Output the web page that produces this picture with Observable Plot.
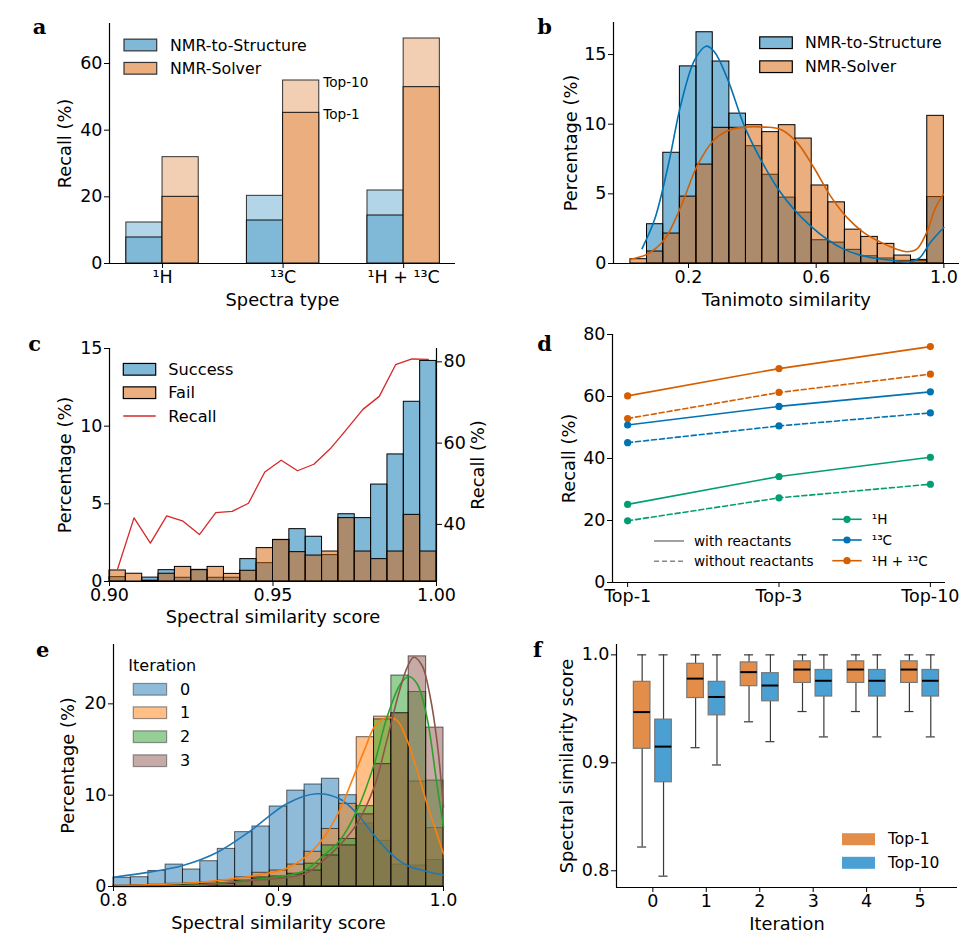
<!DOCTYPE html>
<html><head><meta charset="utf-8">
<script src="https://cdn.jsdelivr.net/npm/d3@7"></script>
<script src="https://cdn.jsdelivr.net/npm/@observablehq/plot@0.6"></script>
<style>
body{margin:0;background:#fff;}
#root{position:relative;width:978px;height:941px;background:#fff;overflow:hidden;font-family:'DejaVu Sans',sans-serif;}
.panel{position:absolute;}
#overlay{position:absolute;left:0;top:0;pointer-events:none;}
#root svg [aria-label$="tick label"]{font-size:17.5px;}
#root svg [aria-label$="tick label"] text{font-size:17.5px;}
</style></head><body><div id="root"></div>
<script>
// ---------- panel a ----------
const aCats = ["¹H", "¹³C", "¹H + ¹³C"];
const aStructTop1 = [7.8, 12.9, 14.4];
const aStructTop10 = [12.3, 20.3, 21.9];
const aSolverTop1 = [20.0, 45.2, 52.9];
const aSolverTop10 = [31.9, 54.9, 67.5];
const aSeries = ["NMR-to-Structure", "NMR-Solver"];
const aNoteLabels = ["Top-10", "Top-1"];

// ---------- panel b ----------
const bEdges = [0.018,0.070,0.121,0.173,0.225,0.276,0.328,0.380,0.431,0.483,0.535,0.586,0.638,0.690,0.741,0.793,0.845,0.897,0.948,1.000];
const bStruct = [0,2.82,7.95,14.15,16.6,14.5,10.76,8.42,6.37,4.73,3.65,1.67,1.5,0.98,0.52,0.36,0.19,0.17,4.77];
const bSolver = [0.31,0.86,2.15,4.8,7.1,9.74,9.74,9.93,9.43,9.93,8.97,5.6,4.39,2.43,1.91,1.41,0.57,0.26,10.6];
const bKdeStruct = [[0.0545,1.07],[0.094,3.17],[0.136,7.0],[0.177,11.5],[0.219,14.6],[0.255,15.6],[0.281,15.2],[0.323,13.2],[0.375,9.86],[0.426,7.47],[0.478,5.44],[0.53,3.9],[0.582,2.7],[0.634,1.74],[0.686,1.03],[0.738,0.6],[0.79,0.36],[0.842,0.21],[0.894,0.12],[0.925,0.43],[0.956,1.46],[1.0,2.58]];
const bKdeSolver = [[0.018,0.31],[0.071,0.67],[0.125,1.74],[0.177,4.13],[0.227,7.0],[0.281,8.9],[0.333,9.62],[0.385,9.8],[0.437,9.79],[0.489,9.62],[0.541,8.66],[0.593,6.87],[0.645,4.84],[0.697,3.29],[0.749,2.22],[0.8,1.55],[0.852,1.03],[0.884,0.84],[0.915,1.03],[0.946,2.22],[0.972,3.9],[0.998,4.96]];

// ---------- panel c ----------
const cEdges = [0.900,0.905,0.910,0.915,0.920,0.925,0.930,0.935,0.940,0.945,0.950,0.955,0.960,0.965,0.970,0.975,0.980,0.985,0.990,0.995,1.000];
const cSuccess = [0.28,0.0,0.25,0.73,0.24,0.75,0.24,0.24,1.44,1.18,2.66,3.37,2.88,1.70,4.33,4.08,6.24,8.18,11.57,14.20];
const cFail = [0.71,0.50,0.05,0.50,0.94,0.73,0.94,0.49,0.69,2.15,2.68,1.89,1.67,1.93,4.08,1.93,1.44,1.93,4.29,1.93];
const cRecallX = [0.9025,0.9075,0.9125,0.9175,0.9225,0.9275,0.9325,0.9375,0.9425,0.9475,0.9525,0.9575,0.9625,0.9675,0.9725,0.9775,0.9825,0.9875,0.9925,0.9975];
const cRecall = [29.1,41.6,35.4,42.1,40.8,37.5,42.9,43.2,45.2,52.9,55.8,53.2,54.8,58.6,63.4,68.3,71.5,79.3,80.7,80.6];
const cRecallDomain = [25.95, 83.28];

// ---------- panel d ----------
const dTops = ["Top-1", "Top-3", "Top-10"];
const dH_with = [25.2, 34.2, 40.4];
const dH_without = [19.9, 27.3, 31.7];
const dC_with = [50.8, 56.8, 61.5];
const dC_without = [45.1, 50.5, 54.7];
const dHC_with = [60.2, 69.0, 76.1];
const dHC_without = [52.9, 61.3, 67.2];
const dSeries = ["¹H", "¹³C", "¹H + ¹³C"];

// ---------- panel e ----------
const eEdges = [0.8,0.8105,0.8211,0.8316,0.8421,0.8526,0.8632,0.8737,0.8842,0.8947,0.9053,0.9158,0.9263,0.9368,0.9474,0.9579,0.9684,0.9789,0.9895,1.0];
const eIter0 = [0.95,1.02,1.7,2.4,1.86,2.77,4.12,5.95,6.57,8.76,10.5,11.17,11.8,10.0,6.9,5.0,2.4,2.3,2.9];
const eIter1 = [0.1,0.15,0.2,0.3,0.35,0.45,0.66,1.0,1.5,1.75,2.4,3.8,6.3,9.05,16.35,18.6,18.9,11.5,6.4];
const eIter2 = [0.02,0.05,0.1,0.15,0.2,0.25,0.35,0.65,1.0,1.1,1.4,2.5,4.5,5.2,8.8,18.3,23.1,21.3,11.6];
const eIter3 = [0,0.02,0.05,0.1,0.15,0.2,0.3,0.6,0.85,0.95,1.3,1.75,3.4,4.5,7.9,13.4,19.0,25.2,17.4];
const eKde0 = [[0.8,1.02],[0.822,1.57],[0.842,2.3],[0.863,3.76],[0.883,6.1],[0.905,9.06],[0.923,10.15],[0.937,9.6],[0.9475,8.0],[0.958,5.6],[0.968,3.6],[0.978,2.3],[0.99,1.65],[1.0,1.25]];
const eKde1 = [[0.8,0.1],[0.83,0.25],[0.8525,0.47],[0.877,0.95],[0.895,1.5],[0.905,2.0],[0.916,3.2],[0.926,5.0],[0.937,8.3],[0.943,10.9],[0.952,14.9],[0.9586,17.6],[0.9657,18.5],[0.9718,18.2],[0.978,16.0],[0.984,12.7],[0.99,9.06],[0.996,5.77],[1.0,3.58]];
const eKde2 = [[0.8,0.02],[0.85,0.15],[0.877,0.6],[0.905,1.2],[0.916,1.75],[0.926,3.2],[0.937,5.0],[0.9475,8.3],[0.958,13.4],[0.9657,18.5],[0.974,22.2],[0.979,23.0],[0.984,22.2],[0.99,18.5],[0.996,11.2],[1.0,6.5]];
const eKde3 = [[0.8,0.01],[0.85,0.12],[0.877,0.55],[0.916,1.4],[0.926,2.67],[0.937,4.5],[0.9475,6.86],[0.958,10.9],[0.9657,16.0],[0.9728,21.1],[0.978,24.0],[0.982,25.1],[0.987,24.2],[0.992,20.7],[0.996,16.0],[1.0,8.7]];
const eLabels = ["0", "1", "2", "3"];

// ---------- panel f ----------
const fIter = [0, 1, 2, 3, 4, 5];
const fTop1Low = [0.822, 0.914, 0.938, 0.9475, 0.9475, 0.9475];
const fTop1Q1 = [0.913, 0.960, 0.971, 0.974, 0.974, 0.974];
const fTop1Med = [0.947, 0.978, 0.984, 0.9864, 0.9864, 0.9864];
const fTop1Q3 = [0.975, 0.9917, 0.993, 0.994, 0.994, 0.994];
const fTop1High = [1, 1, 1, 1, 1, 1];
const fTop10Low = [0.795, 0.898, 0.9196, 0.924, 0.924, 0.924];
const fTop10Q1 = [0.882, 0.944, 0.957, 0.9614, 0.9614, 0.9614];
const fTop10Med = [0.915, 0.961, 0.9716, 0.976, 0.976, 0.976];
const fTop10Q3 = [0.940, 0.975, 0.983, 0.986, 0.986, 0.986];
const fTop10High = [1, 1, 1, 1, 1, 1];
const fLabels = ["Top-1", "Top-10"];

// ================= rendering =================
const FONT = "'DejaVu Sans', sans-serif";
const baseStyle = {fontFamily: FONT, fontSize: "17px", color: "#000", background: "transparent", overflow: "visible"};
const root = document.getElementById("root");
function place(el, left, top) { el.classList.add("panel"); el.style.left = left + "px"; el.style.top = top + "px"; root.appendChild(el); }
function ax(xo, yo) {
  return [
    Plot.axisX({tickSize: 5, tickPadding: 2, fontSize: 17.5, label: null, ...xo}),
    Plot.axisY({tickSize: 5, tickPadding: 2, fontSize: 17.5, label: null, ...yo})
  ];
}
function yLab(t, dx, anchor = "left") { return Plot.text([t], {text: d => d, frameAnchor: anchor, dx, rotate: -90, textAnchor: "middle", lineAnchor: "middle", fontSize: 17.8}); }
function xLab(t, dy) { return Plot.text([t], {text: d => d, frameAnchor: "bottom", dy, textAnchor: "middle", lineAnchor: "middle", fontSize: 17.8}); }
function spines(x0, y0) { return [Plot.ruleX([x0], {stroke: "#000", strokeWidth: 1.2}), Plot.ruleY([y0], {stroke: "#000", strokeWidth: 1.2})]; }
const bins = (edges, vals) => vals.map((v, i) => ({x1: edges[i], x2: edges[i + 1], v}));

const BLUE = "#0173b2", ORANGE = "#d55e00", GREEN = "#029e73";

// ----- a -----
const aRows = aCats.map((c, i) => ({i, s1: aStructTop1[i], s10: aStructTop10[i], o1: aSolverTop1[i], o10: aSolverTop10[i]}));
const aNotes = [{t: aNoteLabels[0], v: aSolverTop10[1], i: 1}, {t: aNoteLabels[1], v: aSolverTop1[1], i: 1}];
place(Plot.plot({
  width: 489, height: 320, marginLeft: 109, marginRight: 34, marginTop: 23, marginBottom: 57,
  style: baseStyle,
  x: {type: "linear", domain: [-0.44, 2.43]}, y: {domain: [0, 72]},
  marks: [
    Plot.rect(aRows, {x1: d => d.i - 0.3, x2: d => d.i, y1: 0, y2: "s10", fill: "#b3d5e8", stroke: "#333", strokeWidth: 1}),
    Plot.rect(aRows, {x1: d => d.i - 0.3, x2: d => d.i, y1: 0, y2: "s1", fill: "#80b9d8", stroke: "#111", strokeWidth: 1}),
    Plot.rect(aRows, {x1: d => d.i, x2: d => d.i + 0.3, y1: 0, y2: "o10", fill: "#f2cfb2", stroke: "#333", strokeWidth: 1}),
    Plot.rect(aRows, {x1: d => d.i, x2: d => d.i + 0.3, y1: 0, y2: "o1", fill: "#eaae7f", stroke: "#111", strokeWidth: 1}),
    Plot.text(aNotes, {x: d => d.i + 0.3, y: "v", text: "t", textAnchor: "start", dx: 4, dy: 2, fontSize: 13.6}),
    ...spines(-0.44, 0),
    ...ax({ticks: [0, 1, 2], tickFormat: i => aCats[i]}, {ticks: [0, 20, 40, 60]}),
    yLab("Recall (%)", -44), xLab("Spectra type", 37)
  ]
}), 0, 0);

// ----- b -----
place(Plot.plot({
  width: 489, height: 320, marginLeft: 124, marginRight: 19, marginTop: 22, marginBottom: 57,
  style: baseStyle,
  x: {domain: [-0.035, 1.049]}, y: {domain: [0, 17.3]},
  marks: [
    Plot.rect(bins(bEdges, bStruct), {x1: "x1", x2: "x2", y1: 0, y2: "v", fill: BLUE, fillOpacity: 0.5, stroke: "#000", strokeWidth: 1}),
    Plot.rect(bins(bEdges, bSolver), {x1: "x1", x2: "x2", y1: 0, y2: "v", fill: ORANGE, fillOpacity: 0.5, stroke: "#000", strokeWidth: 1}),
    Plot.line(bKdeStruct, {x: d => d[0], y: d => d[1], stroke: BLUE, strokeWidth: 1.6, curve: "catmull-rom"}),
    Plot.line(bKdeSolver, {x: d => d[0], y: d => d[1], stroke: ORANGE, strokeWidth: 1.6, curve: "catmull-rom"}),
    ...spines(-0.035, 0),
    ...ax({ticks: [0.2, 0.6, 1.0], tickFormat: d => d.toFixed(1)}, {ticks: [0, 5, 10, 15]}),
    yLab("Percentage (%)", -42), xLab("Tanimoto similarity", 37)
  ]
}), 489, 0);

// ----- c -----
const cL = v => (v - cRecallDomain[0]) / (cRecallDomain[1] - cRecallDomain[0]) * 15;
const cInv = y => cRecallDomain[0] + y / 15 * (cRecallDomain[1] - cRecallDomain[0]);
const cRec = cRecallX.map((x, i) => ({x, r: cRecall[i]}));
place(Plot.plot({
  width: 489, height: 310, marginLeft: 109, marginRight: 53, marginTop: 28, marginBottom: 49,
  style: baseStyle,
  x: {domain: [0.9, 1.0]}, y: {domain: [0, 15]},
  marks: [
    Plot.rect(bins(cEdges, cSuccess), {x1: "x1", x2: "x2", y1: 0, y2: "v", fill: BLUE, fillOpacity: 0.5, stroke: "#000", strokeWidth: 1}),
    Plot.rect(bins(cEdges, cFail), {x1: "x1", x2: "x2", y1: 0, y2: "v", fill: ORANGE, fillOpacity: 0.5, stroke: "#000", strokeWidth: 1}),
    Plot.line(cRec, {x: "x", y: d => cL(d.r), stroke: "#d62728", strokeWidth: 1.3}),
    ...spines(0.9, 0),
    Plot.ruleX([1.0], {stroke: "#000", strokeWidth: 1.2}),
    ...ax({ticks: [0.9, 0.95, 1.0], tickFormat: d => d.toFixed(2)}, {ticks: [0, 5, 10, 15]}),
    Plot.axisY({anchor: "right", ticks: [40, 60, 80].map(cL), tickFormat: v => String(Math.round(cInv(v))), tickSize: 5, tickPadding: 2, fontSize: 17.5, label: null}),
    yLab("Percentage (%)", -44), yLab("Recall (%)", 42, "right"), xLab("Spectral similarity score", 36)
  ]
}), 0, 320);

// ----- d -----
const dColors = [GREEN, BLUE, ORANGE];
const dWith = [dH_with, dC_with, dHC_with];
const dWithout = [dH_without, dC_without, dHC_without];
const dRowsWith = [], dRowsWithout = [];
dSeries.forEach((s, k) => dTops.forEach((t, i) => {
  dRowsWith.push({s, i, v: dWith[k][i], c: dColors[k]});
  dRowsWithout.push({s, i, v: dWithout[k][i], c: dColors[k]});
}));
place(Plot.plot({
  width: 489, height: 310, marginLeft: 123, marginRight: 33, marginTop: 14, marginBottom: 48,
  style: baseStyle,
  x: {type: "linear", domain: [-0.1, 2.1]}, y: {domain: [0, 80]},
  marks: [
    Plot.line(dRowsWithout, {x: "i", y: "v", z: "s", stroke: d => d.c, strokeWidth: 1.6, strokeDasharray: "5,3"}),
    Plot.line(dRowsWith, {x: "i", y: "v", z: "s", stroke: d => d.c, strokeWidth: 1.6}),
    Plot.dot(dRowsWithout, {x: "i", y: "v", fill: d => d.c, r: 3.6}),
    Plot.dot(dRowsWith, {x: "i", y: "v", fill: d => d.c, r: 3.6}),
    ...spines(-0.1, 0),
    ...ax({ticks: [0, 1, 2], tickFormat: i => dTops[i]}, {ticks: [0, 20, 40, 60, 80]}),
    yLab("Recall (%)", -43)
  ]
}), 489, 320);

// ----- e -----
const eColors = ["#1f77b4", "#ff7f0e", "#2ca02c", "#8c564b"];
const eHists = [eIter0, eIter1, eIter2, eIter3];
const eKdes = [eKde0, eKde1, eKde2, eKde3];
place(Plot.plot({
  width: 489, height: 311, marginLeft: 113, marginRight: 46, marginTop: 14, marginBottom: 55,
  style: baseStyle,
  x: {domain: [0.8, 1.0]}, y: {domain: [0, 26.5]},
  marks: [
    ...eHists.map((h, k) => Plot.rect(bins(eEdges, h), {x1: "x1", x2: "x2", y1: 0, y2: "v", fill: eColors[k], fillOpacity: 0.5, stroke: "#000", strokeOpacity: 0.6, strokeWidth: 1})),
    ...eKdes.map((kd, k) => Plot.line(kd, {x: d => d[0], y: d => d[1], stroke: eColors[k], strokeWidth: 1.6, curve: "catmull-rom"})),
    ...spines(0.8, 0),
    ...ax({ticks: [0.8, 0.9, 1.0], tickFormat: d => d.toFixed(1)}, {ticks: [0, 10, 20]}),
    yLab("Percentage (%)", -45), xLab("Spectral similarity score", 37)
  ]
}), 0, 630);

// ----- f -----
const fRows = [];
fIter.forEach((it, i) => {
  fRows.push({x: it - 0.2, lo: fTop1Low[i], q1: fTop1Q1[i], med: fTop1Med[i], q3: fTop1Q3[i], hi: fTop1High[i], c: "#e38d4a"});
  fRows.push({x: it + 0.2, lo: fTop10Low[i], q1: fTop10Q1[i], med: fTop10Med[i], q3: fTop10Q3[i], hi: fTop10High[i], c: "#4aa0d3"});
});
place(Plot.plot({
  width: 489, height: 311, marginLeft: 127, marginRight: 21, marginTop: 14, marginBottom: 54,
  style: baseStyle,
  x: {domain: [-0.68, 5.7]}, y: {domain: [0.7845, 1.0096]},
  marks: [
    Plot.ruleX(fRows, {x: "x", y1: "lo", y2: "hi", stroke: "#3a3a3a", strokeWidth: 1.2}),
    Plot.ruleY(fRows, {y: "lo", x1: d => d.x - 0.085, x2: d => d.x + 0.085, stroke: "#3a3a3a", strokeWidth: 1.2}),
    Plot.ruleY(fRows, {y: "hi", x1: d => d.x - 0.085, x2: d => d.x + 0.085, stroke: "#3a3a3a", strokeWidth: 1.2}),
    Plot.rect(fRows, {x1: d => d.x - 0.155, x2: d => d.x + 0.155, y1: "q1", y2: "q3", fill: "c", stroke: "#777", strokeWidth: 1.2}),
    Plot.ruleY(fRows, {y: "med", x1: d => d.x - 0.155, x2: d => d.x + 0.155, stroke: "#000", strokeWidth: 2}),
    ...spines(-0.68, 0.7845),
    ...ax({ticks: [0, 1, 2, 3, 4, 5], tickFormat: d => String(d)}, {ticks: [0.8, 0.9, 1.0], tickFormat: d => d.toFixed(1)}),
    yLab("Spectral similarity score", -49), xLab("Iteration", 37)
  ]
}), 489, 630);

// ----- overlay: panel letters and legends -----
const NS = "http://www.w3.org/2000/svg";
const ov = document.createElementNS(NS, "svg");
ov.setAttribute("id", "overlay"); ov.setAttribute("width", 978); ov.setAttribute("height", 941);
let s = "";
const letter = (t, x, y) => { s += `<text x="${x}" y="${y}" font-family="'DejaVu Serif', serif" font-weight="bold" font-size="21">${t}</text>`; };
const txt = (t, x, y, fs) => { s += `<text x="${x}" y="${y}" font-family="${FONT}" font-size="${fs}" dominant-baseline="central">${t}</text>`; };
const patch = (x, y, w, h, fill, stroke, op = 1, sop = 1) => { s += `<rect x="${x}" y="${y - h / 2}" width="${w}" height="${h}" fill="${fill}" fill-opacity="${op}" stroke="${stroke}" stroke-opacity="${sop}" stroke-width="1.2"/>`; };
const lineSw = (x1, x2, y, col, dash, dot) => { s += `<line x1="${x1}" x2="${x2}" y1="${y}" y2="${y}" stroke="${col}" stroke-width="1.6" ${dash ? 'stroke-dasharray="5,3"' : ''}/>`; if (dot) s += `<circle cx="${(x1 + x2) / 2}" cy="${y}" r="3.6" fill="${col}"/>`; };

letter("a", 32.7, 34.3); letter("b", 537.3, 34.3); letter("c", 28.3, 351); letter("d", 537.3, 351); letter("e", 36, 656.7); letter("f", 533, 656.7);

// a legend
patch(124, 45, 32.7, 11.7, "#80b9d8", "#333"); txt(aSeries[0], 170, 45, 15.8);
patch(124, 68.3, 32.7, 11.7, "#eaae7f", "#333"); txt(aSeries[1], 170, 68.3, 15.8);
// b legend
patch(759.7, 42.7, 32.6, 11.7, BLUE, "#000", 0.5); txt(aSeries[0], 805, 42.7, 15.8);
patch(759.7, 66.7, 32.6, 11.7, ORANGE, "#000", 0.5); txt(aSeries[1], 805, 66.7, 15.8);
// c legend
patch(123.3, 369.3, 32.4, 11.7, BLUE, "#000", 0.5); txt("Success", 168.3, 369.3, 16.2);
patch(123.3, 392.7, 32.4, 11.7, ORANGE, "#000", 0.5); txt("Fail", 168.3, 392.7, 16.2);
lineSw(123.3, 155.7, 416, "#d62728", false, false); txt("Recall", 168.3, 416, 16.2);
// d legends
lineSw(654, 684, 541, "#888", false, false); txt("with reactants", 694, 541, 13.6);
lineSw(654, 684, 561.3, "#888", true, false); txt("without reactants", 694, 561.3, 13.6);
[519.3, 540, 560.7].forEach((y, k) => { lineSw(832.3, 861.7, y, dColors[k], false, true); txt(dSeries[k], 871.7, y, 13.6); });
// e legend
txt("Iteration", 128.3, 665, 16);
[689.3, 712.7, 736.7, 760.7].forEach((y, k) => { patch(133.3, y, 33.3, 11.7, eColors[k], "#333", 0.5, 0.5); txt(eLabels[k], 180, y, 16); });
// f legend
patch(842, 839.2, 33, 12, "#e38d4a", "none"); txt(fLabels[0], 888, 839.2, 15.5);
patch(842, 862.8, 33, 12, "#4aa0d3", "none"); txt(fLabels[1], 888, 862.8, 15.5);

ov.innerHTML = s;
root.appendChild(ov);
</script></body></html>
